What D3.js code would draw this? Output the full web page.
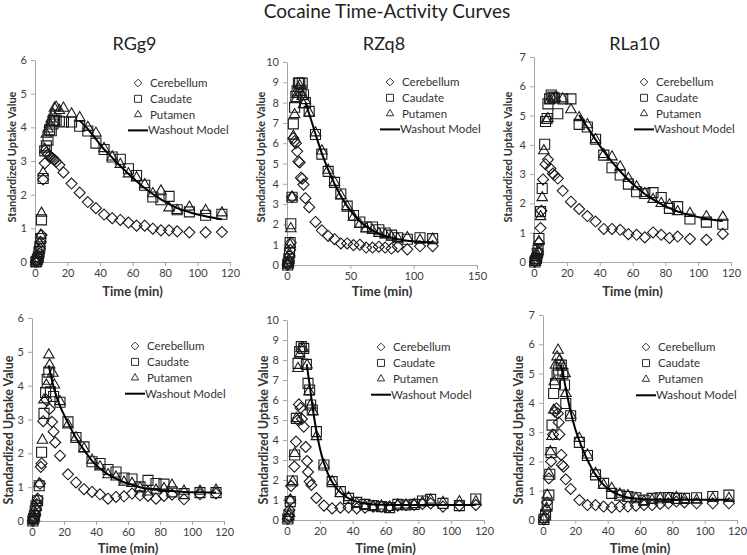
<!DOCTYPE html>
<html>
<head>
<meta charset="utf-8">
<script src="https://cdn.jsdelivr.net/npm/d3@7"></script>
<style>
  body { margin: 0; background: #fff; }
  svg { font-family: Lato, "Open Sans", sans-serif; }
  .axis path, .axis line { stroke: #a6a6a6; }
  .axis text { fill: #404040; font-size: 11px; font-family: Lato, sans-serif; }
</style>
</head>
<body>
<svg id="chart" width="747" height="555"></svg>
<script>
// ---- data: [time (min), SUV] ----
const legendLabels = ["Cerebellum", "Caudate", "Putamen", "Washout Model"];
const animalNames = ["RGg9", "RZq8", "RLa10"];

// RGg9, top
const rgg9TopCer = [[0.5,0],[1,0.02],[1.5,0.05],[2,0.12],[2.5,0.25],[3,0.4],[3.5,0.6],[4,0.8],[5,2.45],[6,2.93],[7,3.25],[8,3.2],[9,3.15],[10,3.1],[11,3.08],[12,3.03],[13,2.98],[15,2.88],[17.5,2.66],[22.5,2.33],[27.5,2.06],[32.5,1.78],[37.5,1.6],[42.5,1.41],[47.5,1.3],[52.5,1.25],[57.5,1.17],[62.5,1.08],[67.5,1.08],[72.5,0.99],[77.5,0.94],[82.5,0.94],[87.5,0.91],[95,0.88],[105,0.88],[115,0.89]];
const rgg9TopCaud = [[0.5,0],[1,0.02],[1.5,0.08],[2,0.15],[2.5,0.3],[3,0.45],[3.5,0.7],[4,1.25],[5,2.48],[6,3.3],[7,3.45],[8,3.62],[9,3.93],[10,3.9],[11,4.1],[12,4.2],[13,4.22],[15,4.18],[17.5,4.16],[22.5,4.16],[27.5,4.03],[32.5,3.89],[37.5,3.53],[42.5,3.34],[47.5,3.12],[52.5,3.05],[57.5,2.77],[62.5,2.57],[67.5,2.28],[72.5,1.93],[77.5,1.85],[82.5,1.95],[87.5,1.55],[95,1.49],[105,1.39],[115,1.42]];
const rgg9TopPut = [[0.5,0],[1,0.03],[1.5,0.1],[2,0.2],[2.5,0.35],[3,0.55],[3.5,0.8],[4,1.45],[5,2.65],[6,3.35],[7,3.8],[8,3.95],[9,4.1],[10,4.25],[11,4.4],[12,4.57],[13,4.6],[15,4.5],[17.5,4.57],[22.5,4.4],[27.5,4.29],[32.5,4.0],[37.5,3.83],[42.5,3.37],[47.5,3.12],[52.5,2.9],[57.5,2.62],[62.5,2.5],[67.5,2.3],[72.5,2.03],[77.5,2.11],[82.5,1.61],[87.5,1.53],[95,1.63],[105,1.53],[115,1.46]];
const rgg9TopModel = [[27.5,4.2],[32.5,3.95],[37.5,3.65],[42.5,3.35],[47.5,3.1],[52.5,2.85],[57.5,2.62],[62.5,2.4],[67.5,2.2],[72.5,2.02],[77.5,1.86],[82.5,1.72],[87.5,1.6],[95,1.48],[105,1.36],[115,1.27]];

// RZq8, top
const rzq8TopCer = [[0.5,0],[1,0.05],[1.5,0.2],[2,0.45],[2.5,0.75],[3,1.1],[4,3.35],[5,6.25],[6,6.1],[7,6.0],[8,5.6],[9,5.1],[10,5.05],[11,4.3],[12,4.25],[13,3.96],[14.5,3.29],[17.5,2.85],[22.5,2.12],[27.5,1.71],[32.5,1.43],[37.5,1.27],[42.5,1.06],[47.5,1.06],[52.5,0.98],[57.5,1.0],[62.5,0.86],[67.5,0.86],[72.5,0.9],[77.5,0.86],[82.5,0.81],[87.5,0.9],[95,0.77],[105,0.92],[115,0.93]];
const rzq8TopCaud = [[0.5,0],[1,0.1],[1.5,0.3],[2,0.6],[2.5,1.1],[3,2.03],[4,3.34],[5,6.95],[6,7.77],[7,8.3],[8,8.58],[9,8.96],[10,8.96],[11,8.6],[12,8.96],[13,8.39],[14.5,8.0],[17.5,7.57],[22.5,6.43],[27.5,5.46],[32.5,4.61],[37.5,4.07],[42.5,3.5],[47.5,2.9],[52.5,2.44],[57.5,2.12],[62.5,1.87],[67.5,1.87],[72.5,1.74],[77.5,1.58],[82.5,1.47],[87.5,1.34],[95,1.27],[105,1.34],[115,1.3]];
const rzq8TopPut = [[0.5,0],[1,0.08],[1.5,0.25],[2,0.55],[2.5,1.0],[3,1.79],[4,3.34],[5,6.35],[6,7.41],[7,8.14],[8,8.4],[9,8.71],[10,8.84],[11,8.5],[12,8.3],[13,7.9],[14.5,8.1],[17.5,7.49],[22.5,6.51],[27.5,5.62],[32.5,4.67],[37.5,4.07],[42.5,3.42],[47.5,2.88],[52.5,2.36],[57.5,2.0],[62.5,1.79],[67.5,1.71],[72.5,1.55],[77.5,1.5],[82.5,1.38],[87.5,1.3],[95,1.35],[105,1.22],[115,1.27]];
const rzq8TopModel = [[14.5,8.0],[17.5,7.45],[22.5,6.45],[27.5,5.5],[32.5,4.7],[37.5,4.0],[42.5,3.4],[47.5,2.9],[52.5,2.5],[57.5,2.15],[62.5,1.9],[67.5,1.7],[72.5,1.55],[77.5,1.43],[82.5,1.34],[87.5,1.27],[95,1.2],[105,1.15],[115,1.12]];

// RLa10, top
const rla10TopCer = [[0.5,0],[1,0.05],[1.5,0.1],[2,0.2],[2.5,0.36],[3,0.65],[4,1.16],[4.5,1.75],[5.5,2.82],[7,3.34],[8.5,3.5],[10,3.19],[11.5,3.02],[12.5,2.97],[14.5,2.85],[17.5,2.43],[22.5,2.06],[27.5,1.81],[32.5,1.57],[37.5,1.38],[42.5,1.13],[47.5,1.13],[52.5,1.1],[57.5,0.95],[62.5,0.93],[67.5,0.84],[72.5,1.01],[77.5,0.93],[82.5,0.82],[87.5,0.87],[95,0.79],[105,0.76],[115,0.96]];
const rla10TopCaud = [[0.5,0],[1,0.05],[1.5,0.12],[2,0.3],[2.5,0.4],[3,0.8],[4,1.72],[5,2.51],[6.5,4.02],[7,4.8],[8,4.9],[8.5,5.4],[9.5,5.57],[10.5,5.7],[11.5,5.63],[12.5,5.6],[14.5,5.06],[17.5,5.57],[22.5,5.57],[27.5,4.7],[32.5,4.61],[37.5,4.19],[42.5,3.65],[47.5,3.22],[52.5,2.97],[57.5,2.66],[62.5,2.4],[67.5,2.34],[72.5,2.37],[77.5,2.2],[82.5,1.83],[87.5,1.89],[95,1.47],[105,1.36],[115,1.29]];
const rla10TopPut = [[0.5,0],[1,0.05],[1.5,0.15],[2,0.25],[2.5,0.36],[3,0.7],[4,1.55],[5,2.2],[6,3.8],[7.5,4.84],[8.5,4.9],[9.5,5.52],[11.5,5.57],[13,5.6],[17.5,5.57],[22.5,5.2],[27.5,4.93],[32.5,4.69],[37.5,4.18],[42.5,3.67],[47.5,3.59],[52.5,3.25],[57.5,2.85],[62.5,2.57],[67.5,2.34],[72.5,2.14],[77.5,2.0],[82.5,1.95],[87.5,1.72],[95,1.66],[105,1.55],[115,1.53]];
const rla10TopModel = [[27.5,5.02],[32.5,4.6],[37.5,4.18],[42.5,3.78],[47.5,3.42],[52.5,3.1],[57.5,2.8],[62.5,2.55],[67.5,2.32],[72.5,2.14],[77.5,1.98],[82.5,1.84],[87.5,1.73],[95,1.6],[105,1.48],[115,1.4]];

// RGg9, bottom
const rgg9BotCer = [[0.5,0],[1,0.05],[1.5,0.1],[2,0.2],[2.5,0.35],[3,0.5],[3.5,0.66],[5,1.1],[5.5,1.6],[6,1.7],[7,2.95],[9,3.58],[11,3.31],[12.5,2.93],[13.5,2.64],[14.5,2.32],[17.5,1.93],[22.5,1.38],[27.5,1.14],[32.5,0.94],[37.5,0.86],[42.5,0.79],[47.5,0.66],[52.5,0.71],[57.5,0.73],[62.5,0.81],[67.5,0.76],[72.5,0.74],[77.5,0.66],[82.5,0.74],[87.5,0.78],[95,0.64],[105,0.79],[115,0.81]];
const rgg9BotCaud = [[0.5,0],[1,0.07],[1.5,0.15],[2,0.3],[2.5,0.45],[3.5,0.6],[4.5,1.04],[6,2.03],[7.5,3.18],[8.5,3.8],[9.5,4.19],[10.5,4.4],[11.5,3.82],[13.5,3.68],[17.5,3.51],[22.5,2.93],[27.5,2.47],[32.5,2.19],[37.5,1.75],[42.5,1.7],[47.5,1.52],[52.5,1.45],[57.5,1.27],[62.5,1.24],[67.5,1.01],[72.5,1.2],[77.5,1.11],[82.5,1.09],[87.5,0.86],[95,0.81],[105,0.84],[115,0.84]];
const rgg9BotPut = [[0.5,0],[1,0.05],[1.5,0.12],[2,0.25],[2.5,0.4],[3,0.61],[4.5,1.1],[6.5,2.39],[7.5,3.58],[9,4.02],[10.5,4.91],[11,4.61],[13,4.37],[14,4.02],[17.5,3.53],[22.5,2.84],[27.5,2.46],[32.5,2.14],[37.5,1.8],[42.5,1.6],[47.5,1.37],[52.5,1.3],[57.5,1.15],[62.5,1.11],[67.5,0.98],[72.5,0.86],[77.5,0.91],[82.5,0.96],[87.5,1.06],[95,0.88],[105,0.88],[115,0.91]];
const rgg9BotModel = [[10.5,4.6],[12.5,4.15],[14.5,3.8],[17.5,3.4],[22.5,2.9],[27.5,2.45],[32.5,2.1],[37.5,1.78],[42.5,1.55],[47.5,1.38],[52.5,1.25],[57.5,1.15],[62.5,1.07],[67.5,1.0],[72.5,0.95],[82.5,0.9],[95,0.86],[105,0.85],[115,0.84]];

// RZq8, bottom
const rzq8BotCer = [[0.5,0.05],[1,0.2],[1.5,0.5],[2,1.0],[2.5,1.7],[4.5,2.67],[5.5,3.92],[6.5,5.0],[7.3,5.78],[8.3,5.6],[9.1,5.05],[10.2,4.67],[11.4,3.65],[12.2,2.95],[12.8,2.4],[13.8,1.92],[14.8,1.75],[17.9,1.1],[22.5,0.72],[27.5,0.58],[32.5,0.62],[37.5,0.63],[42.5,0.58],[47.5,0.62],[52.5,0.67],[57.5,0.67],[62.5,0.67],[67.5,0.72],[72.5,0.75],[77.5,0.75],[82.5,0.8],[87.5,0.83],[95,0.67],[105,0.72],[115,0.75]];
const rzq8BotCaud = [[0.5,0.05],[1.2,0.25],[2,0.92],[3.2,1.95],[4.7,3.25],[5.7,5.08],[6.7,7.83],[7.7,8.42],[8.7,8.67],[10.2,8.58],[11.8,7.78],[12.8,6.83],[13.8,6.5],[14.4,5.75],[15.4,5.5],[17.9,4.42],[22.5,2.75],[27.5,1.92],[32.5,1.42],[37.5,1.08],[42.5,0.88],[47.5,0.78],[52.5,0.72],[57.5,0.67],[62.5,0.62],[67.5,0.78],[72.5,0.75],[77.5,0.78],[82.5,0.95],[87.5,1.03],[95,0.83],[105,0.72],[115,1.05]];
const rzq8BotPut = [[0.5,0.05],[1.5,0.33],[2,1.0],[3.5,1.92],[4.7,3.33],[5.7,5.08],[6.7,7.58],[7.7,8.25],[8.7,8.58],[9.8,8.58],[12.2,7.75],[13.4,6.42],[14.4,5.75],[15.8,5.42],[17.9,4.17],[22.5,2.75],[27.5,1.92],[32.5,1.33],[37.5,1.12],[42.5,0.83],[47.5,0.72],[52.5,0.67],[57.5,0.7],[62.5,0.63],[67.5,0.75],[72.5,0.75],[77.5,0.78],[82.5,0.88],[87.5,1.0],[95,0.88],[105,0.92],[115,0.92]];
const rzq8BotModel = [[12,7.8],[13.8,6.75],[15.4,5.75],[17.9,4.45],[20,3.6],[22.5,2.85],[25,2.3],[27.5,1.9],[30,1.6],[32.5,1.38],[37.5,1.08],[42.5,0.92],[47.5,0.83],[52.5,0.78],[60,0.76],[70,0.75],[90,0.75],[115,0.75]];

// RLa10, bottom
const rla10BotCer = [[0.5,0.02],[1,0.1],[2,0.35],[2.5,0.6],[3.6,1.42],[5,2.0],[6.2,2.92],[7.5,3.7],[8.3,3.81],[9.2,3.64],[9.7,3.33],[10.1,2.92],[11.3,2.22],[11.7,1.88],[12.7,1.82],[14.1,1.39],[17.1,1.06],[22.5,0.68],[27.5,0.51],[32.5,0.51],[37.5,0.46],[42.5,0.43],[47.5,0.46],[52.5,0.46],[57.5,0.49],[62.5,0.51],[67.5,0.51],[72.5,0.55],[77.5,0.57],[82.5,0.63],[87.5,0.6],[95,0.57],[105,0.57],[115,0.57]];
const rla10BotCaud = [[0.5,0.02],[1.6,0.17],[2.6,0.51],[3.6,0.85],[4.2,1.56],[5,2.3],[5.6,3.24],[6.6,4.32],[7.7,4.66],[8.7,4.95],[9.7,5.12],[11.3,5.29],[12.3,5.0],[13.3,4.61],[14.1,3.98],[17.1,3.56],[22.5,2.65],[27.5,2.2],[32.5,1.54],[37.5,1.25],[42.5,0.91],[47.5,0.85],[52.5,0.8],[57.5,0.76],[62.5,0.68],[67.5,0.74],[72.5,0.76],[77.5,0.77],[82.5,0.74],[87.5,0.74],[95,0.76],[105,0.8],[115,0.85]];
const rla10BotPut = [[0.5,0.02],[2.2,0.4],[2.6,0.85],[3.6,1.6],[4.6,2.33],[5.6,2.85],[6.6,3.75],[7,4.72],[7.7,5.29],[8.7,5.57],[9.3,5.8],[10.3,5.46],[11.7,5.29],[13.7,5.0],[14.1,4.32],[17.1,3.58],[22.5,2.79],[27.5,2.22],[32.5,1.59],[37.5,1.19],[42.5,1.08],[47.5,0.88],[52.5,0.83],[57.5,0.74],[62.5,0.63],[67.5,0.68],[72.5,0.74],[77.5,0.74],[82.5,0.77],[87.5,0.7],[95,0.68],[105,0.74],[115,0.74]];
const rla10BotModel = [[11,5.3],[12.3,5.0],[14.1,4.5],[17.1,3.7],[20,3.1],[22.5,2.7],[25,2.35],[27.5,2.05],[30,1.78],[32.5,1.55],[37.5,1.2],[42.5,0.98],[47.5,0.85],[52.5,0.77],[60,0.72],[70,0.7],[85,0.69],[100,0.69],[115,0.69]];

// ---- layout ----
const panels = [
  {name: animalNames[0], x0: 35,  x1: 230, xMax: 120, xStep: 20, y0: 262, y1: 60,  yMax: 6,
   data: [rgg9TopCer, rgg9TopCaud, rgg9TopPut], model: rgg9TopModel,
   leg: [138, 83, 15.8], ylab: [12, 157, 11], xlabY: 296},
  {name: animalNames[1], x0: 287, x1: 477, xMax: 150, xStep: 50, y0: 265, y1: 62,  yMax: 10,
   data: [rzq8TopCer, rzq8TopCaud, rzq8TopPut], model: rzq8TopModel,
   leg: [390, 82, 15.8], ylab: [261, 157, 11], xlabY: 296},
  {name: animalNames[2], x0: 534, x1: 731, xMax: 120, xStep: 20, y0: 262, y1: 57,  yMax: 7,
   data: [rla10TopCer, rla10TopCaud, rla10TopPut], model: rla10TopModel,
   leg: [644, 82, 15.8], ylab: [508, 157, 11], xlabY: 296},
  {name: null, x0: 32,  x1: 224, xMax: 120, xStep: 20, y0: 521, y1: 318, yMax: 6,
   data: [rgg9BotCer, rgg9BotCaud, rgg9BotPut], model: rgg9BotModel,
   leg: [135, 346, 15.9], ylab: [9, 430, 12.5], xlabY: 553},
  {name: null, x0: 287, x1: 484, xMax: 120, xStep: 20, y0: 520, y1: 320, yMax: 10,
   data: [rzq8BotCer, rzq8BotCaud, rzq8BotPut], model: rzq8BotModel,
   leg: [381, 347, 15.9], ylab: [264, 430, 12.5], xlabY: 553},
  {name: null, x0: 543, x1: 737, xMax: 120, xStep: 20, y0: 520, y1: 315, yMax: 7,
   data: [rla10BotCer, rla10BotCaud, rla10BotPut], model: rla10BotModel,
   leg: [646, 347, 16.1], ylab: [519, 430, 12.5], xlabY: 553}
];

const svg = d3.select("#chart");

svg.append("text")
  .attr("x", 387).attr("y", 18)
  .attr("text-anchor", "middle")
  .style("font-size", "19px").style("fill", "#222")
  .text("Cocaine Time-Activity Curves");

function markerPath(kind, s) {
  if (kind === 0) { // diamond
    const h = s * 0.55;
    return `M0,${-h}L${h},0L0,${h}L${-h},0Z`;
  }
  if (kind === 1) return d3.symbol(d3.symbolSquare, s * s)();
  return d3.symbol(d3.symbolTriangle, s * s * 0.48)();
}

panels.forEach(p => {
  const x = d3.scaleLinear().domain([0, p.xMax]).range([p.x0, p.x1]);
  const y = d3.scaleLinear().domain([0, p.yMax]).range([p.y0, p.y1]);
  const g = svg.append("g");

  if (p.name) {
    g.append("text")
      .attr("x", (p.x0 + p.x1) / 2 + 2).attr("y", 50)
      .attr("text-anchor", "middle")
      .style("font-size", "18px").style("fill", "#222")
      .text(p.name);
  }

  g.append("g").attr("class", "axis")
    .attr("transform", "translate(0," + y(0) + ")")
    .call(d3.axisBottom(x).tickValues(d3.range(0, p.xMax + 1, p.xStep))
      .tickSizeInner(4).tickSizeOuter(0).tickPadding(3));

  g.append("g").attr("class", "axis")
    .attr("transform", "translate(" + x(0) + ",0)")
    .call(d3.axisLeft(y).ticks(p.yMax).tickFormat(d3.format("d"))
      .tickSizeInner(4).tickSizeOuter(0).tickPadding(4));

  g.append("text")
    .attr("x", (p.x0 + p.x1) / 2).attr("y", p.xlabY)
    .attr("text-anchor", "middle")
    .style("font-size", "13px").style("font-weight", "bold").style("fill", "#333")
    .text("Time (min)");

  g.append("text")
    .attr("transform", `translate(${p.ylab[0]},${p.ylab[1]}) rotate(-90)`)
    .attr("text-anchor", "middle").attr("dy", "0.35em")
    .style("font-size", p.ylab[2] + "px").style("font-weight", "bold").style("fill", "#333")
    .text("Standardized Uptake Value");

  p.data.forEach((series, k) => {
    g.selectAll(null).data(series).enter()
      .append("path")
      .attr("d", markerPath(k, 10))
      .attr("transform", d => `translate(${x(d[0])},${y(d[1])})`)
      .attr("fill", "none").attr("stroke", "#1a1a1a").attr("stroke-width", 1.1);
  });

  g.append("path")
    .datum(p.model)
    .attr("d", d3.line().x(d => x(d[0])).y(d => y(d[1])).curve(d3.curveMonotoneX))
    .attr("fill", "none").attr("stroke", "#000").attr("stroke-width", 2);

  // legend
  const [lx, ly, dy] = p.leg;
  legendLabels.forEach((lab, k) => {
    const yy = ly + k * dy;
    if (k < 3) {
      g.append("path").attr("d", markerPath(k, 7))
        .attr("transform", `translate(${lx},${yy})`)
        .attr("fill", "none").attr("stroke", "#333").attr("stroke-width", 1);
    } else {
      g.append("line").attr("x1", lx - 10).attr("x2", lx + 10)
        .attr("y1", yy).attr("y2", yy)
        .attr("stroke", "#000").attr("stroke-width", 2);
    }
    g.append("text")
      .attr("x", k < 3 ? lx + 12 : lx + 10).attr("y", yy).attr("dy", "0.35em")
      .style("font-size", "11.5px").style("fill", "#333")
      .text(lab);
  });
});
</script>
</body>
</html>
